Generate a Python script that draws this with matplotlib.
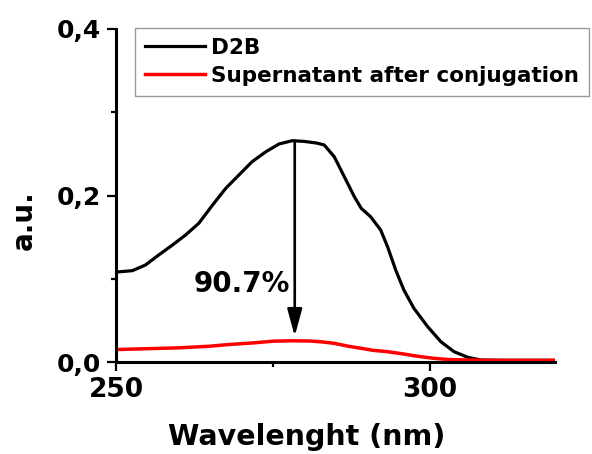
import matplotlib
matplotlib.use("Agg")
import matplotlib.pyplot as plt
from matplotlib.ticker import MultipleLocator, FuncFormatter

# absorbance
wl_d2b = [250, 252.6, 254.7, 256.8, 259.0, 261.1, 263.2, 265.4, 267.5, 269.6,
          271.7, 273.9, 276.0, 278.1, 280, 282, 283.2, 284.8, 286.4, 288.0,
          289.1, 290.6, 292.2, 293.3, 294.6, 295.9, 297.5, 299.7, 301.8, 303.9,
          306.1, 308.2, 312, 316, 320]
abs_d2b = [0.108, 0.1097, 0.1165, 0.1285, 0.1405, 0.1526, 0.1666, 0.1886, 0.2086,
           0.2246, 0.2406, 0.2526, 0.2619, 0.2658, 0.2650, 0.2630, 0.2607, 0.2466,
           0.2226, 0.1986, 0.1846, 0.1745, 0.1586, 0.1385, 0.1105, 0.0865, 0.0645,
           0.0424, 0.0244, 0.0124, 0.0056, 0.0024, 0.002, 0.002, 0.002]

wl_sup = [250, 255, 260, 265, 268, 272, 275, 278, 281, 283, 284.8, 287, 289.1,
          291, 293.3, 295.5, 297.5, 299, 300.7, 303, 306.1, 310, 315, 320]
abs_sup = [0.015, 0.016, 0.017, 0.019, 0.021, 0.023, 0.025, 0.0255, 0.0252, 0.024,
           0.0224, 0.019, 0.0164, 0.014, 0.0124, 0.010, 0.0076, 0.006, 0.0044,
           0.003, 0.0024, 0.002, 0.002, 0.002]

labels = ["D2B", "Supernatant after conjugation"]
arrow_x = 278.5
arrow_from = 0.266
arrow_to = 0.031
drop_text = "90.7%"

plt.rcParams['font.family'] = ['DejaVu Sans']
plt.rcParams['font.weight'] = 'bold'

fig = plt.figure(figsize=(5.92, 4.54), dpi=100)
ax = fig.add_axes([116 / 592, 1 - 362 / 454, (555 - 116) / 592, (362 - 29) / 454])

ax.plot(wl_d2b, abs_d2b, color='black', lw=2.3, label=labels[0])
ax.plot(wl_sup, abs_sup, color='red', lw=2.5, label=labels[1])

ax.annotate("", xy=(arrow_x, arrow_to), xytext=(arrow_x, arrow_from),
            arrowprops=dict(arrowstyle='-|>,head_length=1.1,head_width=0.3',
                            color='black', lw=1.9, mutation_scale=15,
                            shrinkA=0, shrinkB=0))
ax.text(270, 0.094, drop_text, fontsize=20, fontweight='bold', ha='center', va='center')

ax.set_xlim(250, 320)
ax.set_ylim(0, 0.4)
ax.xaxis.set_major_locator(MultipleLocator(50))
ax.xaxis.set_minor_locator(MultipleLocator(25))
ax.yaxis.set_major_locator(MultipleLocator(0.2))
ax.yaxis.set_minor_locator(MultipleLocator(0.1))
ax.yaxis.set_major_formatter(FuncFormatter(lambda v, p: f"{v:.1f}".replace(".", ",")))

for side in ['top', 'right']:
    ax.spines[side].set_visible(False)
for side in ['left', 'bottom']:
    ax.spines[side].set_linewidth(2.2)

ax.tick_params(which='major', direction='out', length=6.5, width=1.6, pad=4)
ax.tick_params(which='minor', direction='out', length=3.5, width=1.6)
ax.tick_params(axis='x', which='major', labelsize=19)
ax.tick_params(axis='y', which='major', labelsize=18)
for lbl in ax.get_xticklabels() + ax.get_yticklabels():
    lbl.set_fontweight('bold')

ax.set_xlabel("Wavelenght (nm)", fontsize=20.5, fontweight='bold', labelpad=15)
ax.set_ylabel("a.u.", fontsize=20, fontweight='bold', labelpad=14)
ax.xaxis.label.set_x(0.435)
ax.yaxis.label.set_y(0.426)

leg = ax.legend(loc='upper left', bbox_to_anchor=(135 / 592, 1 - 28 / 454),
                bbox_transform=fig.transFigure, borderaxespad=0, fancybox=False,
                prop={'size': 15.5, 'weight': 'bold'}, handlelength=2.8,
                handletextpad=0.3, borderpad=0.45, labelspacing=0.38)
leg.get_frame().set_edgecolor('#808080')
leg.get_frame().set_linewidth(1.0)

fig.savefig("out.png", dpi=100)
